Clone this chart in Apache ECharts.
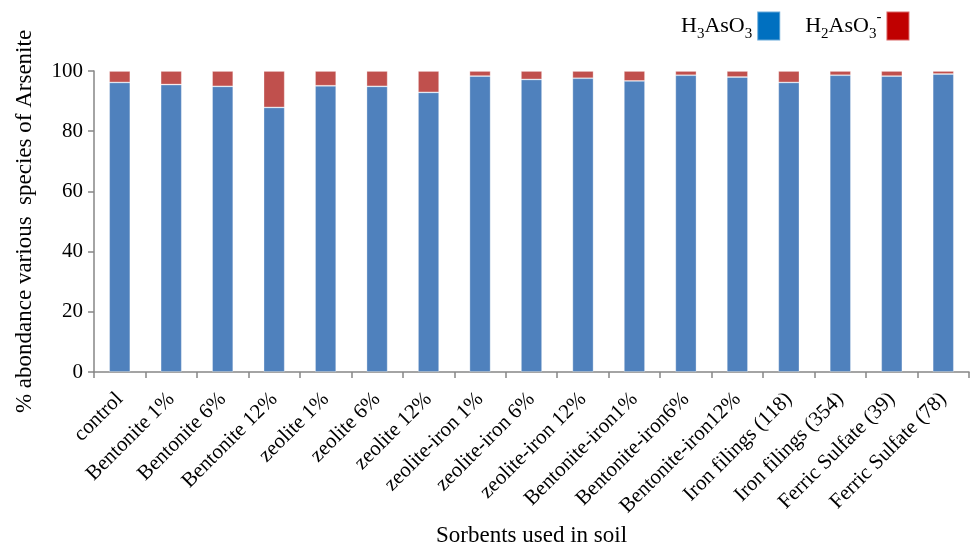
<!DOCTYPE html>
<html>
<head>
<meta charset="utf-8">
<script src="https://cdn.jsdelivr.net/npm/echarts@6/dist/echarts.min.js"></script>
<style>html,body{margin:0;padding:0;background:#fff}#c{width:971px;height:542px}</style>
</head>
<body>
<div id="c"></div>
<script>
const categories = ['control','Bentonite 1%','Bentonite 6%','Bentonite 12%','zeolite 1%','zeolite 6%','zeolite 12%','zeolite-iron 1%','zeolite-iron 6%','zeolite-iron 12%','Bentonite-iron1%','Bentonite-iron6%','Bentonite-iron12%','Iron filings (118)','Iron filings (354)','Ferric Sulfate (39)','Ferric Sulfate (78)'];
const h3aso3 = [96.2,95.5,94.9,87.9,95.1,94.9,92.9,98.3,97.2,97.6,96.7,98.6,98.0,96.2,98.6,98.3,99.0];
const h2aso3 = [3.8,4.5,5.1,12.1,4.9,5.1,7.1,1.7,2.8,2.4,3.3,1.4,2.0,3.8,1.4,1.7,1.0];
const yTicks = [0,20,40,60,80,100];

const FONT = '"Liberation Serif", "Times New Roman", serif';
const chart = echarts.init(document.getElementById('c'), null, {renderer:'canvas'});
const rich = {
  m:{fontFamily:FONT,fontSize:22,color:'#000',lineHeight:32,verticalAlign:'middle'},
  sub:{fontFamily:FONT,fontSize:15,color:'#000',lineHeight:15,verticalAlign:'bottom'},
  sup:{fontFamily:FONT,fontSize:15,color:'#000',lineHeight:15,verticalAlign:'top'}
};
chart.setOption({
  animation:false,
  backgroundColor:'#fff',
  grid:{left:94,right:2,top:71,bottom:170,containLabel:false,outerBoundsMode:'none'},
  legend:{
    top:5,left:676,align:'right',itemWidth:23,itemHeight:29,itemGap:24,
    icon:'rect',
    data:[{name:'H3AsO3',itemStyle:{color:'#0070C0'}},{name:'H2AsO3-',itemStyle:{color:'#C00000'}}],
    formatter:function(n){
      if(n==='H3AsO3') return '{m|H}{sub|3}{m|AsO}{sub|3}';
      return '{m|H}{sub|2}{m|AsO}{sub|3}{sup|-}';
    },
    textStyle:{rich:rich}
  },
  xAxis:{
    type:'category',data:categories,
    name:'Sorbents used in soil',nameLocation:'middle',nameGap:143,
    nameTextStyle:{fontFamily:FONT,fontSize:23,color:'#000'},
    axisLine:{lineStyle:{color:'#868686',width:1.5}},
    axisTick:{show:true,alignWithLabel:false,length:6,lineStyle:{color:'#868686',width:1.5}},
    axisLabel:{rotate:45,interval:0,margin:24,fontFamily:FONT,fontSize:21,color:'#000'}
  },
  yAxis:{
    type:'value',min:0,max:100,interval:20,
    name:'% abondance various  species of Arsenite',nameLocation:'middle',nameGap:58,
    nameTextStyle:{fontFamily:FONT,fontSize:23,color:'#000'},
    axisLine:{show:true,lineStyle:{color:'#868686',width:1.5}},
    axisTick:{show:true,length:6,lineStyle:{color:'#868686',width:1.5}},
    splitLine:{show:false},
    axisLabel:{margin:11,fontFamily:FONT,fontSize:21,color:'#000',
      formatter:function(v){return yTicks.indexOf(v)>=0?String(v):'';}}
  },
  series:[
    {name:'H3AsO3',type:'bar',stack:'s',data:h3aso3,barWidth:'41%',
      itemStyle:{color:'#4F81BD',borderColor:'rgba(255,255,255,0.4)',borderWidth:0.8}},
    {name:'H2AsO3-',type:'bar',stack:'s',data:h2aso3,barWidth:'41%',
      itemStyle:{color:'#C0504D',borderColor:'rgba(255,255,255,0.4)',borderWidth:0.8}}
  ]
});
</script>
</body>
</html>
